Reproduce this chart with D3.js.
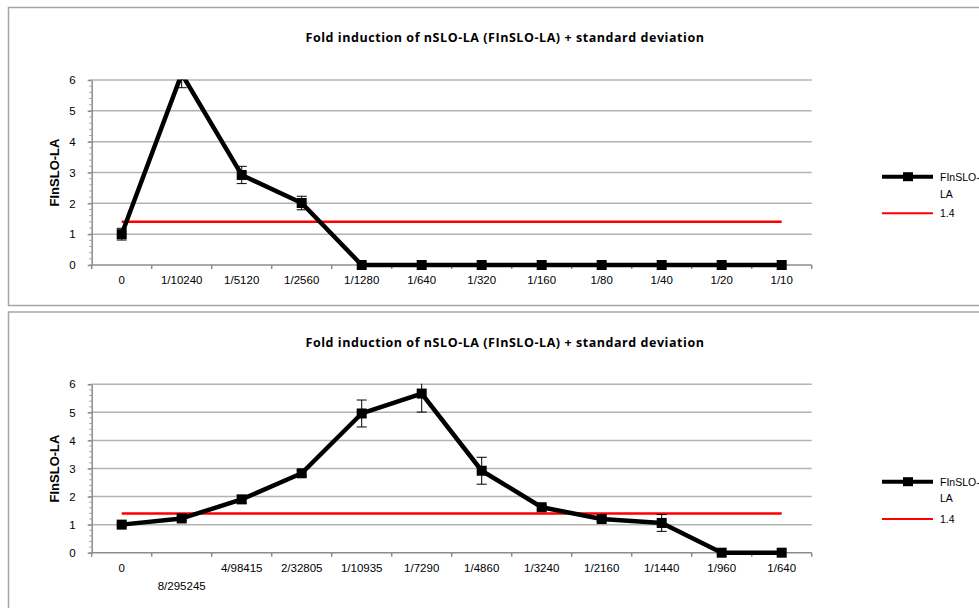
<!DOCTYPE html>
<html><head><meta charset="utf-8">
<script src="https://cdn.jsdelivr.net/npm/d3@7"></script>
<style>body{margin:0;background:#fff;} svg{display:block;font-family:"Liberation Sans",Arial,sans-serif;}</style>
</head><body><svg id="c" width="979" height="608"></svg>
<script>
const chartTitle = "Fold induction of nSLO-LA (FInSLO-LA) + standard deviation";
const yAxisTitle = "FInSLO-LA";
const seriesName = ["FInSLO-", "LA"];
const thresholdName = "1.4";
const threshold = 1.4;
const yTicks = [0, 1, 2, 3, 4, 5, 6];
const topCategories = ["0","1/10240","1/5120","1/2560","1/1280","1/640","1/320","1/160","1/80","1/40","1/20","1/10"];
const topValues = [1.0, 6.2, 2.92, 2.01, 0, 0, 0, 0, 0, 0, 0, 0];
const topSD = [0.19, 0.45, 0.28, 0.22, 0, 0, 0, 0, 0, 0, 0, 0];
const bottomCategories = ["0","8/295245","4/98415","2/32805","1/10935","1/7290","1/4860","1/3240","1/2160","1/1440","1/960","1/640"];
const bottomValues = [1.0, 1.22, 1.9, 2.83, 4.96, 5.67, 2.92, 1.62, 1.2, 1.06, 0, 0];
const bottomSD = [0.05, 0.08, 0.14, 0.1, 0.48, 0.66, 0.48, 0.08, 0.08, 0.3, 0, 0];

const svg = d3.select("#c");
const defs = svg.append("defs");

function frame(y0, y1) {
  svg.append("rect").attr("x", 8.5).attr("y", y0).attr("width", 1100).attr("height", y1 - y0)
    .attr("fill", "#fff").attr("stroke", "#a6a6a6").attr("stroke-width", 1.5);
}
frame(7.5, 305.5);
frame(312, 640);

function drawChart(o) {
  const L = 91.7, R = 811.7;
  const x = d3.scaleBand().domain(o.cats).range([L, R]).padding(0);
  const y = d3.scaleLinear().domain([0, 6]).range([o.bottom, o.top]);
  const cx = c => x(c) + x.bandwidth() / 2;
  const g = svg.append("g");
  const clipId = "clip" + o.id;
  defs.append("clipPath").attr("id", clipId).append("rect")
    .attr("x", L).attr("y", o.top - 0.5).attr("width", R - L).attr("height", o.bottom - o.top + 8);

  // gridlines
  g.append("g").selectAll("line").data(yTicks.filter(t => t > 0)).join("line")
    .attr("x1", L).attr("x2", R).attr("y1", d => y(d)).attr("y2", d => y(d))
    .attr("stroke", "#b3b3b3").attr("stroke-width", 1.5);

  // minor ticks
  g.append("g").selectAll("line").data(d3.range(0, 60.5, 2).map(v => v / 10)).join("line")
    .attr("x1", L - 2.5).attr("x2", L).attr("y1", d => y(d)).attr("y2", d => y(d))
    .attr("stroke", "#a0a0a0").attr("stroke-width", 1);

  // y axis
  const ya = g.append("g").attr("transform", `translate(${L},0)`)
    .call(d3.axisLeft(y).tickValues(yTicks).tickSize(4).tickSizeOuter(0).tickPadding(12).tickFormat(d3.format("d")));
  ya.select(".domain").attr("stroke", "#8c8c8c").attr("stroke-width", 1.5);
  ya.selectAll(".tick line").attr("stroke", "#8c8c8c").attr("stroke-width", 1.5);
  ya.selectAll("text").attr("font-size", 11.5).attr("fill", "#000").attr("font-family", "Liberation Sans, Arial");

  // x axis line + boundary ticks
  g.append("line").attr("x1", L).attr("x2", R).attr("y1", y(0)).attr("y2", y(0))
    .attr("stroke", "#8c8c8c").attr("stroke-width", 1.5);
  const bounds = o.cats.map(c => x(c)).concat([x.range()[1]]);
  g.append("g").selectAll("line").data(bounds).join("line")
    .attr("x1", d => d).attr("x2", d => d).attr("y1", y(0)).attr("y2", y(0) + 4)
    .attr("stroke", "#8c8c8c").attr("stroke-width", 1.5);

  const xa = g.append("g").attr("transform", `translate(0,${y(0)})`)
    .call(d3.axisBottom(x).tickSize(0).tickPadding(11));
  xa.select(".domain").remove();
  xa.selectAll("text").attr("font-size", 11.5).attr("fill", "#000").attr("font-family", "Liberation Sans, Arial");
  xa.selectAll("text").each(function () {
    if (this.getComputedTextLength() > 0.75 * x.bandwidth()) d3.select(this).attr("dy", "2.28em");
  });

  // threshold line
  g.append("line").attr("x1", cx(o.cats[0])).attr("x2", cx(o.cats[o.cats.length - 1]))
    .attr("y1", y(threshold)).attr("y2", y(threshold)).attr("stroke", "#ff0000").attr("stroke-width", 2.5);

  const pts = o.cats.map((c, i) => ({ c, v: o.vals[i], s: o.sd[i] }));
  const plot = g.append("g").attr("clip-path", `url(#${clipId})`);
  plot.append("path").datum(pts)
    .attr("d", d3.line().x(d => cx(d.c)).y(d => y(d.v)))
    .attr("fill", "none").attr("stroke", "#000").attr("stroke-width", 4.5).attr("stroke-linejoin", "round");
  plot.selectAll("rect.m").data(pts).join("rect").attr("class", "m")
    .attr("x", d => cx(d.c) - 5).attr("y", d => y(d.v) - 5).attr("width", 10).attr("height", 10).attr("fill", "#000");
  const eb = plot.selectAll("g.eb").data(pts.filter(d => d.s > 0)).join("g").attr("class", "eb")
    .attr("stroke", "#000").attr("stroke-width", 1);
  eb.append("line").attr("x1", d => cx(d.c)).attr("x2", d => cx(d.c)).attr("y1", d => y(d.v - d.s)).attr("y2", d => y(d.v + d.s));
  eb.append("line").attr("x1", d => cx(d.c) - 5).attr("x2", d => cx(d.c) + 5).attr("y1", d => y(d.v - d.s)).attr("y2", d => y(d.v - d.s));
  eb.append("line").attr("x1", d => cx(d.c) - 5).attr("x2", d => cx(d.c) + 5).attr("y1", d => y(d.v + d.s)).attr("y2", d => y(d.v + d.s));

  // title
  g.append("text").attr("x", 505).attr("y", o.titleY).attr("text-anchor", "middle").attr("dominant-baseline", "central")
    .attr("font-family", "Open Sans, sans-serif").attr("font-weight", "bold").attr("font-size", 12.5)
    .attr("letter-spacing", 0.55).text(chartTitle);
  g.append("text").attr("transform", `translate(54,${(o.top + o.bottom) / 2}) rotate(-90)`)
    .attr("text-anchor", "middle").attr("dominant-baseline", "central")
    .attr("font-weight", "bold").attr("font-size", 13).text(yAxisTitle);

  // legend
  const lg = g.append("g");
  lg.append("line").attr("x1", 882).attr("x2", 933).attr("y1", o.leg[0]).attr("y2", o.leg[0]).attr("stroke", "#000").attr("stroke-width", 4);
  lg.append("rect").attr("x", 903).attr("y", o.leg[0] - 4.5).attr("width", 10).attr("height", 9).attr("fill", "#000");
  lg.append("text").attr("x", 940).attr("y", o.leg[0]).attr("dominant-baseline", "central").attr("font-size", 10.5).text(seriesName[0]);
  lg.append("text").attr("x", 940).attr("y", o.leg[1]).attr("dominant-baseline", "central").attr("font-size", 10.5).text(seriesName[1]);
  lg.append("line").attr("x1", 882).attr("x2", 933).attr("y1", o.leg[2]).attr("y2", o.leg[2]).attr("stroke", "#ff0000").attr("stroke-width", 2);
  lg.append("text").attr("x", 940).attr("y", o.leg[2]).attr("dominant-baseline", "central").attr("font-size", 10.5).text(thresholdName);
}

drawChart({ id: "a", cats: topCategories, vals: topValues, sd: topSD, top: 80, bottom: 265, titleY: 37.5, leg: [176.7, 194, 213.3] });
drawChart({ id: "b", cats: bottomCategories, vals: bottomValues, sd: bottomSD, top: 384.3, bottom: 552.7, titleY: 342.3, leg: [481.7, 498.3, 519] });
</script>
</body></html>
